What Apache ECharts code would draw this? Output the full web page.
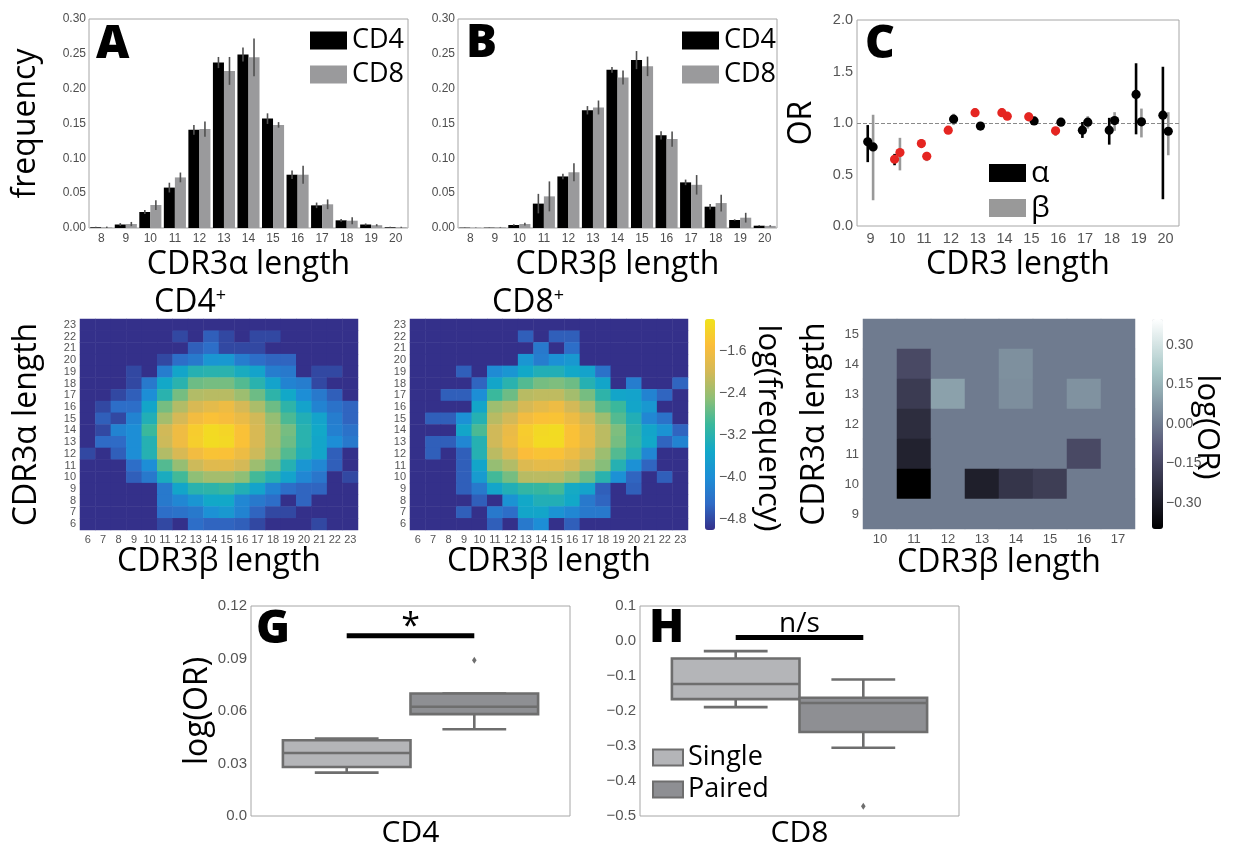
<!DOCTYPE html>
<html><head><meta charset="utf-8">
<script src="https://cdn.jsdelivr.net/npm/echarts@6.0.0/dist/echarts.min.js"></script>
<style>html,body{margin:0;padding:0;background:#fff}#c{width:1236px;height:848px}</style>
</head><body><div id="c"></div>
<script>
// ---------- DATA ----------
const lengthsAB = ['8','9','10','11','12','13','14','15','16','17','18','19','20'];
const alphaCD4    = [0.001,0.005,0.023,0.058,0.141,0.2375,0.249,0.157,0.0765,0.0325,0.011,0.005,0.001];
const alphaCD4Err = [0.0008,0.002,0.003,0.007,0.007,0.008,0.01,0.0076,0.006,0.004,0.002,0.0015,0.0008];
const alphaCD8    = [0.001,0.0057,0.033,0.0726,0.142,0.2255,0.245,0.148,0.0765,0.034,0.0105,0.004,0.001];
const alphaCD8Err = [0.001,0.003,0.007,0.007,0.011,0.02,0.027,0.004,0.013,0.007,0.005,0.0015,0.0008];
const betaCD4     = [0.0005,0.0005,0.0043,0.035,0.074,0.169,0.227,0.241,0.133,0.0655,0.0306,0.0115,0.0033];
const betaCD4Err  = [0.0003,0.0003,0.001,0.014,0.004,0.006,0.004,0.013,0.006,0.004,0.004,0.001,0.0008];
const betaCD8     = [0.0005,0.001,0.0057,0.0454,0.080,0.173,0.216,0.232,0.1276,0.062,0.0358,0.0148,0.003];
const betaCD8Err  = [0.0003,0.0005,0.002,0.0215,0.013,0.01,0.01,0.014,0.011,0.014,0.012,0.007,0.001];

const lengthsC = ['9','10','11','12','13','14','15','16','17','18','19','20'];
const orAlpha   = [0.817,0.648,0.80,0.93,1.10,1.10,1.06,0.924,0.93,0.93,1.277,1.076];
const orAlphaLo = [0.62,0.59,0.76,0.90,1.06,1.07,1.02,0.88,0.855,0.79,0.89,0.26];
const orAlphaHi = [0.98,0.70,0.84,0.96,1.14,1.14,1.10,0.96,1.01,1.05,1.58,1.546];
const orAlphaSig= [0,1,1,1,1,1,1,1,0,0,0,0];
const orBeta    = [0.768,0.713,0.677,1.037,0.97,1.066,1.02,1.008,1.008,1.024,1.011,0.92];
const orBetaLo  = [0.25,0.54,0.63,0.98,0.96,1.04,1.0,0.97,0.946,0.924,0.86,0.687];
const orBetaHi  = [1.08,0.856,0.72,1.09,0.98,1.09,1.04,1.05,1.066,1.105,1.14,1.105];
const orBetaSig = [0,1,1,0,0,1,0,0,0,0,0,0];

const heatBeta  = ['6','7','8','9','10','11','12','13','14','15','16','17','18','19','20','21','22','23'];
const heatAlpha = ['6','7','8','9','10','11','12','13','14','15','16','17','18','19','20','21','22','23'];
// rows: CDR3a = 23 (top) ... 6 (bottom); columns: CDR3b = 6 ... 23 ; log(frequency)
const cd4Heat = [
[-5,-5,-5,-5,-5,-5,-5,-5,-5,-5,-5,-5,-5,-5,-5,-5,-5,-5],
[-5,-5,-5,-5,-5,-5,-4.8,-5,-4.6,-4.8,-5,-4.8,-4.8,-5,-5,-5,-5,-5],
[-5,-5,-5,-5,-5,-5,-5,-4.6,-4.45,-4.8,-4.8,-4.8,-5,-5,-5,-5,-5,-5],
[-5,-5,-5,-5,-5,-4.8,-4.45,-4.3,-3.85,-3.8,-4.25,-4.45,-4.55,-4.55,-5,-5,-5,-5],
[-5,-5,-5,-4.8,-5,-4.25,-3.55,-3.25,-3.2,-3.2,-3.4,-3.6,-4.25,-4.3,-5,-4.8,-4.8,-5],
[-5,-5,-5,-4.8,-4.3,-3.5,-3.2,-2.7,-2.65,-2.65,-2.85,-3.2,-3.6,-4.15,-4.25,-4.8,-5,-5],
[-5,-5,-4.8,-4.6,-4.0,-3.2,-2.65,-2.25,-2.2,-2.2,-2.4,-2.7,-3.15,-3.5,-4.0,-4.3,-4.6,-5],
[-5,-4.8,-4.45,-4.45,-3.55,-2.65,-2.25,-1.95,-1.8,-1.68,-1.98,-2.3,-2.7,-3.15,-3.6,-4.15,-4.4,-4.55],
[-5,-4.6,-4.8,-4.15,-3.3,-2.35,-1.98,-1.6,-1.45,-1.55,-1.72,-2.02,-2.45,-2.9,-3.3,-3.6,-4.25,-4.55],
[-5,-4.8,-4.15,-4.0,-3.0,-2.02,-1.65,-1.3,-1.12,-1.18,-1.45,-1.95,-2.35,-2.65,-3.2,-3.5,-4.2,-4.4],
[-5,-4.5,-4.5,-4.0,-3.25,-2.05,-1.65,-1.28,-1.1,-1.15,-1.45,-1.95,-2.35,-2.7,-3.2,-3.55,-4.0,-4.3],
[-4.8,-5,-4.6,-4.0,-3.25,-2.25,-1.95,-1.62,-1.42,-1.45,-1.68,-2.05,-2.45,-2.85,-3.3,-3.55,-4.6,-5],
[-5,-5,-5,-4.45,-4.0,-2.85,-2.45,-2.05,-1.85,-1.83,-2.0,-2.4,-2.7,-3.25,-3.85,-4.1,-4.6,-5],
[-5,-5,-5,-4.6,-4.3,-3.4,-2.95,-2.5,-2.35,-2.35,-2.5,-2.95,-3.25,-3.6,-4.1,-4.35,-5,-4.8],
[-5,-5,-5,-5,-5,-4.3,-3.55,-3.2,-3.15,-3.05,-3.3,-3.6,-4.15,-4.45,-4.55,-4.55,-5,-5],
[-5,-5,-5,-5,-5,-4.3,-4.1,-3.85,-3.5,-3.5,-4.1,-4.3,-4.45,-5,-4.55,-5,-5,-5],
[-5,-5,-5,-5,-5,-4.45,-4.4,-4.3,-3.95,-3.8,-4.15,-4.55,-4.8,-4.8,-5,-5,-5,-5],
[-5,-5,-5,-5,-5,-4.8,-5,-4.45,-4.55,-4.55,-4.6,-4.8,-5,-5,-5,-4.8,-5,-5]
];
const cd8Heat = [
[-5,-5,-5,-5,-5,-5,-5,-5,-5,-5,-5,-5,-5,-5,-5,-5,-5,-5],
[-5,-5,-5,-5,-5,-5,-5,-4.6,-5,-4.6,-4.6,-5,-5,-5,-5,-5,-5,-5],
[-5,-5,-5,-5,-5,-5,-5,-5,-4.3,-5,-4.45,-5,-5,-5,-5,-5,-5,-5],
[-5,-5,-5,-5,-5,-5,-5,-3.85,-4.25,-3.95,-3.8,-5,-5,-5,-5,-5,-5,-5],
[-5,-5,-5,-4.6,-5,-4.05,-3.85,-3.5,-3.3,-3.3,-3.5,-3.6,-4.4,-5,-5,-5,-5,-5],
[-5,-5,-5,-5,-4.55,-3.55,-3.2,-2.85,-2.65,-2.6,-2.7,-3.25,-3.55,-5,-4.25,-5,-5,-4.55],
[-5,-5,-4.6,-4.6,-4.0,-3.0,-2.7,-2.2,-2.15,-2.15,-2.35,-2.65,-3.15,-3.55,-3.6,-4.15,-4.55,-5],
[-5,-5,-5,-5,-3.55,-2.4,-2.25,-1.97,-1.8,-1.67,-2.0,-2.3,-2.8,-3.0,-3.55,-3.8,-5,-5],
[-5,-4.6,-4.6,-3.95,-3.25,-2.2,-2.0,-1.62,-1.45,-1.42,-1.68,-2.02,-2.4,-2.85,-3.3,-4.1,-4.4,-5],
[-5,-5,-5,-3.55,-2.9,-2.03,-1.72,-1.3,-1.15,-1.1,-1.45,-1.8,-2.18,-2.6,-3.15,-3.55,-3.9,-4.55],
[-5,-4.6,-4.6,-4.1,-3.25,-2.03,-1.68,-1.33,-1.12,-1.12,-1.45,-1.78,-2.18,-2.65,-3.1,-3.5,-4.55,-4.15],
[-5,-4.6,-5,-4.6,-3.25,-2.18,-1.88,-1.5,-1.42,-1.45,-1.68,-2.0,-2.4,-2.85,-3.25,-4.1,-5,-5],
[-5,-5,-5,-4.6,-3.55,-2.45,-2.25,-1.88,-1.78,-1.8,-1.97,-2.25,-2.55,-3.25,-3.95,-4.55,-5,-5],
[-5,-5,-5,-4.6,-3.75,-2.95,-2.65,-2.2,-2.18,-2.2,-2.4,-2.7,-3.2,-3.95,-4.55,-5,-4.6,-5],
[-5,-5,-5,-4.6,-4.3,-3.55,-3.3,-3.1,-3.05,-2.95,-3.45,-3.6,-4.6,-5,-4.6,-5,-5,-5],
[-5,-5,-5,-5,-4.6,-5,-3.9,-3.5,-3.3,-3.3,-3.5,-4.3,-4.55,-5,-5,-5,-5,-5],
[-5,-5,-5,-4.6,-5,-4.3,-4.45,-3.55,-3.55,-3.9,-4.1,-4.3,-4.3,-5,-5,-5,-5,-5],
[-5,-5,-5,-5,-5,-4.6,-5,-4.3,-4.0,-5,-4.6,-5,-5,-5,-5,-5,-5,-5]
];
const heatTicks = [-4.8,-4.0,-3.2,-2.4,-1.6];

const orBetaCats  = ['10','11','12','13','14','15','16','17'];
const orAlphaCats = ['9','10','11','12','13','14','15'];
// rows: CDR3a = 15 (top) ... 9 (bottom); columns CDR3b = 10 ... 17 ; log(OR)
const logOrHeat = [
[0,0,0,0,0,0,0,0],
[0,-0.14,0,0,0.055,0,0,0],
[0,-0.19,0.1,0,0.05,0,0.06,0],
[0,-0.24,0,0,0,0,0,0],
[0,-0.28,0,0,0,0,-0.14,0],
[0,-0.4,0,-0.29,-0.21,-0.18,0,0],
[0,0,0,0,0,0,0,0]
];
const logOrTicks = [-0.3,-0.15,0,0.15,0.3];

// box stats: [min, Q1, median, Q3, max]
const gCats = ['CD4'], hCats = ['CD8'];
const gSingle = [0.0248,0.028,0.036,0.0433,0.0443];
const gPaired = [0.0496,0.0582,0.0624,0.070,0.070];
const gSingleOut = [], gPairedOut = [0.089];
const hSingle = [-0.189,-0.166,-0.123,-0.050,-0.029];
const hPaired = [-0.305,-0.260,-0.177,-0.162,-0.110];
const hSingleOut = [], hPairedOut = [-0.472];
const gSigY = 0.103, gSigText = '*';
const hSigY = 0.010, hSigText = 'n/s';

// ---------- STYLE ----------
const TITLE = '"Open Sans","Noto Sans",sans-serif';
const ARIAL = '"Liberation Sans",Arial,sans-serif';
const minus = (v, d) => (v < 0 ? '\u2212' : '') + Math.abs(v).toFixed(d);
const nameStyle = {fontFamily: TITLE, fontSize: 32, color: '#000'};
const BAR_GAP = 0.1;

function errRender(sign) {
  return function (params, api) {
    const cat = api.value(0), v = api.value(1), e = api.value(2);
    const band = api.size([1, 0])[0];
    const bw = band * (1 - BAR_GAP) / 2;
    const x = api.coord([cat, v])[0] + sign * bw / 2;
    const y1 = api.coord([cat, v + e])[1];
    const y2 = api.coord([cat, Math.max(0, v - e)])[1];
    return {type: 'line', shape: {x1: x, y1: y1, x2: x, y2: y2}, style: {stroke: '#505050', lineWidth: 1.6}};
  };
}
function orRender(sign, barColor) {
  return function (params, api) {
    const band = api.size([1, 0])[0];
    const c = api.coord([api.value(0), api.value(1)]);
    const x = c[0] + sign * band * 0.1;
    const yLo = api.coord([api.value(0), api.value(2)])[1];
    const yHi = api.coord([api.value(0), api.value(3)])[1];
    return {type: 'group', children: [
      {type: 'line', shape: {x1: x, y1: yHi, x2: x, y2: yLo}, style: {stroke: barColor, lineWidth: 2.6}},
      {type: 'circle', shape: {cx: x, cy: c[1], r: 4.6}, style: {fill: api.value(4) ? '#e52521' : '#000'}}
    ]};
  };
}
function boxRender(sign, fill, outliers) {
  return function (params, api) {
    const band = api.size([1, 0])[0];
    const cat = api.value(0);
    const cx = api.coord([cat, 0])[0] + sign * band * 0.2;
    const w = band * 0.4, cap = w / 2;
    const y = i => api.coord([cat, api.value(i)])[1];
    const yMin = y(1), yQ1 = y(2), yMed = y(3), yQ3 = y(4), yMax = y(5);
    const st = {stroke: '#6e6e6e', lineWidth: 2.6};
    const ch = [
      {type: 'line', shape: {x1: cx, y1: yQ3, x2: cx, y2: yMax}, style: st},
      {type: 'line', shape: {x1: cx, y1: yQ1, x2: cx, y2: yMin}, style: st},
      {type: 'line', shape: {x1: cx - cap / 2, y1: yMax, x2: cx + cap / 2, y2: yMax}, style: st},
      {type: 'line', shape: {x1: cx - cap / 2, y1: yMin, x2: cx + cap / 2, y2: yMin}, style: st},
      {type: 'rect', shape: {x: cx - w / 2, y: yQ3, width: w, height: yQ1 - yQ3}, style: {fill: fill, stroke: '#6e6e6e', lineWidth: 2.6}},
      {type: 'line', shape: {x1: cx - w / 2, y1: yMed, x2: cx + w / 2, y2: yMed}, style: st}
    ];
    outliers.forEach(function (v) {
      const oy = api.coord([cat, v])[1];
      ch.push({type: 'polygon', shape: {points: [[cx, oy - 3.5], [cx + 2.3, oy], [cx, oy + 3.5], [cx - 2.3, oy]]}, style: {fill: '#6e6e6e'}});
    });
    return {type: 'group', children: ch};
  };
}
function sigRender(label, fontSize, lift) {
  return function (params, api) {
    const band = api.size([1, 0])[0];
    const p = api.coord([api.value(0), api.value(1)]);
    return {type: 'group', children: [
      {type: 'line', shape: {x1: p[0] - band * 0.2, y1: p[1], x2: p[0] + band * 0.2, y2: p[1]}, style: {stroke: '#000', lineWidth: 5}},
      {type: 'text', x: p[0], y: p[1] - lift, style: {text: label, fontFamily: TITLE, fontSize: fontSize, fill: '#000', align: 'center', verticalAlign: 'middle'}}
    ]};
  };
}
function heatData(rows) {
  const out = [];
  rows.forEach(function (row, r) {
    row.forEach(function (v, c) { out.push([c, rows.length - 1 - r, v]); });
  });
  return out;
}
function letter(t, x, y, col) {
  return {type: 'text', x: x, y: y, style: {text: t, fontFamily: TITLE, fontWeight: 900, fontSize: 46, fill: col, align: 'left', verticalAlign: 'middle'}};
}

// ---------- AXES ----------
const tickAB = {fontFamily: ARIAL, fontSize: 12, color: '#4d4d4d'};
const tickC = {fontFamily: ARIAL, fontSize: 14.5, color: '#555'};
const tickHeat = {fontFamily: ARIAL, fontSize: 11, color: '#555'};
const tickF = {fontFamily: ARIAL, fontSize: 13, color: '#555'};
const tickG = {fontFamily: ARIAL, fontSize: 15, color: '#555'};
const noLine = {show: false};
const heatTick = {length: 3, alignWithLabel: true, lineStyle: {color: '#777'}};

const xAxes = [
  {gridIndex: 0, type: 'category', data: lengthsAB, axisLine: noLine, axisTick: noLine, axisLabel: Object.assign({interval: 0, margin: 5}, tickAB), name: 'CDR3\u03b1 length', nameLocation: 'middle', nameGap: 21, nameTextStyle: nameStyle},
  {gridIndex: 1, type: 'category', data: lengthsAB, axisLine: noLine, axisTick: noLine, axisLabel: Object.assign({interval: 0, margin: 5}, tickAB), name: 'CDR3\u03b2 length', nameLocation: 'middle', nameGap: 21, nameTextStyle: nameStyle},
  {gridIndex: 2, type: 'category', data: lengthsC, axisLine: noLine, axisTick: noLine, axisLabel: Object.assign({interval: 0, margin: 5}, tickC), name: 'CDR3 length', nameLocation: 'middle', nameGap: 23, nameTextStyle: nameStyle},
  {gridIndex: 3, type: 'category', data: heatBeta, axisLine: noLine, axisTick: heatTick, axisLabel: Object.assign({interval: 0, margin: 4}, tickHeat), name: 'CDR3\u03b2 length', nameLocation: 'middle', nameGap: 16, nameTextStyle: nameStyle},
  {gridIndex: 4, type: 'category', data: heatBeta, axisLine: noLine, axisTick: heatTick, axisLabel: Object.assign({interval: 0, margin: 4}, tickHeat), name: 'CDR3\u03b2 length', nameLocation: 'middle', nameGap: 16, nameTextStyle: nameStyle},
  {gridIndex: 5, type: 'value', show: false},
  {gridIndex: 6, type: 'category', data: orBetaCats, axisLine: noLine, axisTick: heatTick, axisLabel: Object.assign({interval: 0, margin: 4}, tickF), name: 'CDR3\u03b2 length', nameLocation: 'middle', nameGap: 16, nameTextStyle: nameStyle},
  {gridIndex: 7, type: 'value', show: false},
  {gridIndex: 8, type: 'category', data: gCats, axisLine: noLine, axisTick: {length: 4, alignWithLabel: true, lineStyle: {color: '#888'}}, axisLabel: {margin: 2, fontFamily: TITLE, fontSize: 30, color: '#000'}},
  {gridIndex: 9, type: 'category', data: hCats, axisLine: noLine, axisTick: {length: 4, alignWithLabel: true, lineStyle: {color: '#888'}}, axisLabel: {margin: 2, fontFamily: TITLE, fontSize: 30, color: '#000'}}
];
const yAxes = [
  {gridIndex: 0, type: 'value', min: 0, max: 0.3, interval: 0.05, axisLine: noLine, axisTick: noLine, splitLine: noLine, axisLabel: Object.assign({margin: 3, formatter: v => v.toFixed(2)}, tickAB), name: 'frequency', nameLocation: 'middle', nameGap: 47, nameTextStyle: nameStyle},
  {gridIndex: 1, type: 'value', min: 0, max: 0.3, interval: 0.05, axisLine: noLine, axisTick: noLine, splitLine: noLine, axisLabel: Object.assign({margin: 3, formatter: v => v.toFixed(2)}, tickAB)},
  {gridIndex: 2, type: 'value', min: 0, max: 2, interval: 0.5, axisLine: noLine, axisTick: noLine, splitLine: noLine, axisLabel: Object.assign({margin: 4, formatter: v => v.toFixed(1)}, tickC), name: 'OR', nameLocation: 'middle', nameGap: 39, nameTextStyle: nameStyle},
  {gridIndex: 3, type: 'category', data: heatAlpha, axisLine: noLine, axisTick: heatTick, axisLabel: Object.assign({interval: 0, margin: 4}, tickHeat), name: 'CDR3\u03b1 length', nameLocation: 'middle', nameGap: 37, nameTextStyle: nameStyle},
  {gridIndex: 4, type: 'category', data: heatAlpha, axisLine: noLine, axisTick: heatTick, axisLabel: Object.assign({interval: 0, margin: 4}, tickHeat)},
  {gridIndex: 5, type: 'value', min: -5, max: -1, position: 'right', axisLine: noLine, axisTick: noLine, splitLine: noLine, axisLabel: Object.assign({margin: 4, customValues: heatTicks, formatter: v => minus(v, 1)}, {fontFamily: ARIAL, fontSize: 14, color: '#555'})},
  {gridIndex: 6, type: 'category', data: orAlphaCats, axisLine: noLine, axisTick: heatTick, axisLabel: Object.assign({interval: 0, margin: 4}, tickF), name: 'CDR3\u03b1 length', nameLocation: 'middle', nameGap: 32, nameTextStyle: nameStyle},
  {gridIndex: 7, type: 'value', min: -0.4, max: 0.4, position: 'right', axisLine: noLine, axisTick: noLine, splitLine: noLine, axisLabel: Object.assign({margin: 3, customValues: logOrTicks, formatter: v => minus(v, 2)}, {fontFamily: ARIAL, fontSize: 14, color: '#555'})},
  {gridIndex: 8, type: 'value', min: 0, max: 0.12, interval: 0.03, axisLine: noLine, axisTick: noLine, splitLine: noLine, axisLabel: Object.assign({margin: 4, formatter: v => v === 0 ? '0.0' : v.toFixed(2)}, tickG), name: 'log(OR)', nameLocation: 'middle', nameGap: 30, nameTextStyle: nameStyle},
  {gridIndex: 9, type: 'value', min: -0.5, max: 0.1, interval: 0.1, axisLine: noLine, axisTick: noLine, splitLine: noLine, axisLabel: Object.assign({margin: 4, formatter: v => minus(v, 1)}, tickG)}
];

const frame = {show: true, borderColor: '#a6a6a6', borderWidth: 1, backgroundColor: 'transparent'};
const grids = [
  Object.assign({left: 89, top: 19, width: 319, height: 209}, frame),
  Object.assign({left: 458, top: 19, width: 319, height: 209}, frame),
  Object.assign({left: 857, top: 20, width: 322, height: 206}, frame),
  {left: 80, top: 319, width: 278, height: 211},
  {left: 410, top: 319, width: 278, height: 211},
  {left: 705, top: 319, width: 10, height: 211},
  {left: 863, top: 319, width: 272, height: 210},
  {left: 1152, top: 319, width: 11, height: 210},
  Object.assign({left: 251, top: 606, width: 319, height: 210}, frame),
  Object.assign({left: 640, top: 606, width: 319, height: 210}, frame)
];

const legendText = {fontFamily: TITLE, fontSize: 27, color: '#000'};
const legends = [
  {data: ['CD4', 'CD8'], left: 310, top: 27, orient: 'vertical', icon: 'rect', itemWidth: 37, itemHeight: 18, itemGap: 7, padding: 0, selectedMode: false, textStyle: legendText},
  {data: ['CD4', 'CD8'], left: 682, top: 27, orient: 'vertical', icon: 'rect', itemWidth: 37, itemHeight: 18, itemGap: 7, padding: 0, selectedMode: false, textStyle: legendText},
  {data: ['\u03b1', '\u03b2'], left: 989, top: 158, orient: 'vertical', icon: 'rect', itemWidth: 37, itemHeight: 18, itemGap: 5, padding: 0, selectedMode: false, textStyle: {fontFamily: TITLE, fontSize: 30, color: '#000'}},
  {data: ['Single', 'Paired'], left: 652, top: 744, orient: 'vertical', icon: 'rect', itemWidth: 30, itemHeight: 16, itemGap: 5, padding: 0, selectedMode: false, itemStyle: {borderColor: '#6e6e6e', borderWidth: 2}, textStyle: legendText}
];

const parula = ['#34308a', '#2f6bc6', '#1d8ed6', '#12a8c8', '#3ab89c', '#8fbf76', '#d4b957', '#fbbd3a', '#f0e31c'];
const bone = ['#000000', '#1c1c27', '#38384e', '#545473', '#6f7b8f', '#8ba1ab', '#a7c7c7', '#d3e3e3', '#ffffff'];

const series = [
  {name: 'CD4', type: 'bar', xAxisIndex: 0, yAxisIndex: 0, data: alphaCD4, itemStyle: {color: '#000'}, barGap: '0%', barCategoryGap: '10%'},
  {name: 'CD8', type: 'bar', xAxisIndex: 0, yAxisIndex: 0, data: alphaCD8, itemStyle: {color: '#9a9a9c'}, barGap: '0%', barCategoryGap: '10%'},
  {name: 'aCD4err', type: 'custom', xAxisIndex: 0, yAxisIndex: 0, renderItem: errRender(-1), data: alphaCD4.map((v, i) => [i, v, alphaCD4Err[i]]), z: 5},
  {name: 'aCD8err', type: 'custom', xAxisIndex: 0, yAxisIndex: 0, renderItem: errRender(1), data: alphaCD8.map((v, i) => [i, v, alphaCD8Err[i]]), z: 5},
  {name: 'CD4', type: 'bar', xAxisIndex: 1, yAxisIndex: 1, data: betaCD4, itemStyle: {color: '#000'}, barGap: '0%', barCategoryGap: '10%'},
  {name: 'CD8', type: 'bar', xAxisIndex: 1, yAxisIndex: 1, data: betaCD8, itemStyle: {color: '#9a9a9c'}, barGap: '0%', barCategoryGap: '10%'},
  {name: 'bCD4err', type: 'custom', xAxisIndex: 1, yAxisIndex: 1, renderItem: errRender(-1), data: betaCD4.map((v, i) => [i, v, betaCD4Err[i]]), z: 5},
  {name: 'bCD8err', type: 'custom', xAxisIndex: 1, yAxisIndex: 1, renderItem: errRender(1), data: betaCD8.map((v, i) => [i, v, betaCD8Err[i]]), z: 5},
  {name: '\u03b1', type: 'custom', xAxisIndex: 2, yAxisIndex: 2, itemStyle: {color: '#000'}, renderItem: orRender(-1, '#000'),
   data: orAlpha.map((v, i) => [i, v, orAlphaLo[i], orAlphaHi[i], orAlphaSig[i]]), z: 6,
   markLine: {silent: true, symbol: 'none', label: {show: false}, lineStyle: {color: '#8a8a8a', type: 'dashed', width: 1}, data: [{yAxis: 1}]}},
  {name: '\u03b2', type: 'custom', xAxisIndex: 2, yAxisIndex: 2, itemStyle: {color: '#999'}, renderItem: orRender(1, '#999'),
   data: orBeta.map((v, i) => [i, v, orBetaLo[i], orBetaHi[i], orBetaSig[i]]), z: 5},
  {name: 'cd4heat', type: 'heatmap', xAxisIndex: 3, yAxisIndex: 3, data: heatData(cd4Heat), itemStyle: {borderWidth: 0}, emphasis: {disabled: true}},
  {name: 'cd8heat', type: 'heatmap', xAxisIndex: 4, yAxisIndex: 4, data: heatData(cd8Heat), itemStyle: {borderWidth: 0}, emphasis: {disabled: true}},
  {name: 'orheat', type: 'heatmap', xAxisIndex: 6, yAxisIndex: 6, data: heatData(logOrHeat), itemStyle: {borderWidth: 0}, emphasis: {disabled: true}},
  {name: 'Single', type: 'custom', xAxisIndex: 8, yAxisIndex: 8, itemStyle: {color: '#b4b5b8'}, renderItem: boxRender(-1, '#b4b5b8', gSingleOut), data: [[0].concat(gSingle)]},
  {name: 'Paired', type: 'custom', xAxisIndex: 8, yAxisIndex: 8, itemStyle: {color: '#8e8f93'}, renderItem: boxRender(1, '#8e8f93', gPairedOut), data: [[0].concat(gPaired)]},
  {name: 'gsig', type: 'custom', xAxisIndex: 8, yAxisIndex: 8, renderItem: sigRender(gSigText, 34, 8), data: [[0, gSigY]], z: 8},
  {name: 'Single', type: 'custom', xAxisIndex: 9, yAxisIndex: 9, itemStyle: {color: '#b4b5b8'}, renderItem: boxRender(-1, '#b4b5b8', hSingleOut), data: [[0].concat(hSingle)]},
  {name: 'Paired', type: 'custom', xAxisIndex: 9, yAxisIndex: 9, itemStyle: {color: '#8e8f93'}, renderItem: boxRender(1, '#8e8f93', hPairedOut), data: [[0].concat(hPaired)]},
  {name: 'hsig', type: 'custom', xAxisIndex: 9, yAxisIndex: 9, renderItem: sigRender(hSigText, 28, 13), data: [[0, hSigY]], z: 8}
];

const option = {
  animation: false,
  backgroundColor: '#fff',
  grid: grids, xAxis: xAxes, yAxis: yAxes, legend: legends, series: series,
  visualMap: [
    {type: 'continuous', seriesIndex: [10, 11], min: -5, max: -1, inRange: {color: parula}, left: 705, top: 319, itemWidth: 10, itemHeight: 211, calculable: false, padding: 0, orient: 'vertical', hoverLink: false},
    {type: 'continuous', seriesIndex: [12], min: -0.4, max: 0.4, inRange: {color: bone}, left: 1152, top: 319, itemWidth: 11, itemHeight: 210, calculable: false, padding: 0, orient: 'vertical', hoverLink: false}
  ],
  graphic: [
    letter('A', 96, 45, '#000'), letter('B', 466, 44, '#000'), letter('C', 865, 45, '#000'),
    letter('D', 87, 342, '#fff'), letter('E', 416, 341, '#fff'), letter('F', 872, 342, '#fff'),
    letter('G', 256, 630, '#000'), letter('H', 649, 629, '#000'),
    {type: 'text', x: 190, y: 303, style: {text: 'CD4{s|+}', rich: {s: {fontSize: 18, verticalAlign: 'top', fontFamily: TITLE}}, fontFamily: TITLE, fontSize: 32, fill: '#000', align: 'center', verticalAlign: 'middle'}},
    {type: 'text', x: 528, y: 303, style: {text: 'CD8{s|+}', rich: {s: {fontSize: 18, verticalAlign: 'top', fontFamily: TITLE}}, fontFamily: TITLE, fontSize: 32, fill: '#000', align: 'center', verticalAlign: 'middle'}},
    {type: 'text', x: 768, y: 428, rotation: -Math.PI / 2, style: {text: 'log(frequency)', fontFamily: TITLE, fontSize: 31, fill: '#000', align: 'center', verticalAlign: 'middle'}},
    {type: 'text', x: 1207, y: 427, rotation: -Math.PI / 2, style: {text: 'log(OR)', fontFamily: TITLE, fontSize: 31, fill: '#000', align: 'center', verticalAlign: 'middle'}}
  ]
};
const chart = echarts.init(document.getElementById('c'), null, {renderer: 'canvas'});
chart.setOption(option);
</script></body></html>
